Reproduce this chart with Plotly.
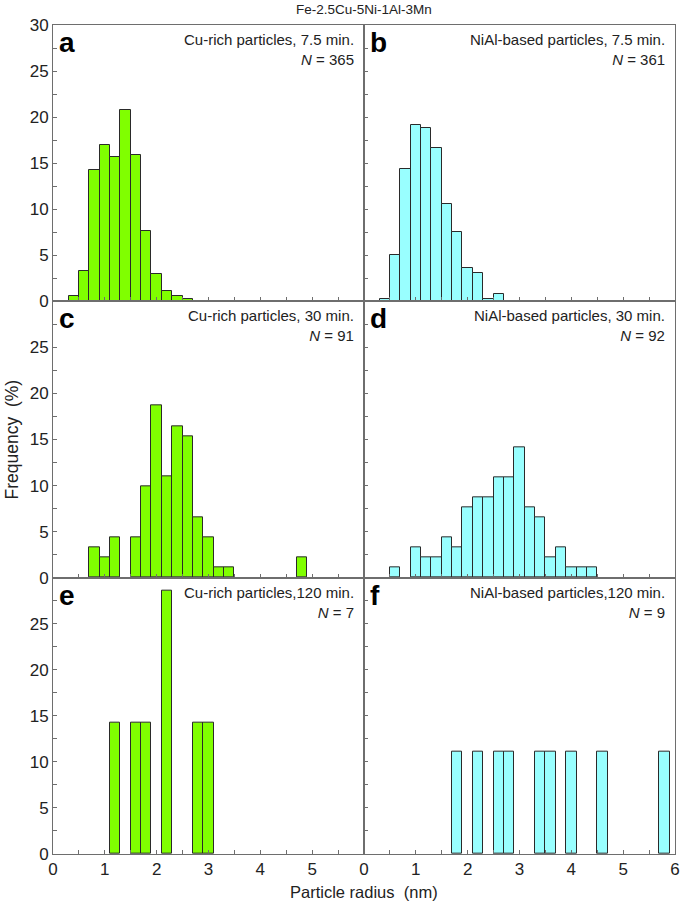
import plotly.graph_objects as go
from plotly.subplots import make_subplots

# bin centres (nm) and frequencies (%)
cu_7_x = [0.4, 0.6, 0.8, 1.0, 1.2, 1.4, 1.6, 1.8, 2.0, 2.2, 2.4, 2.6]
cu_7_y = [0.55, 3.29, 14.25, 16.99, 15.62, 20.82, 15.89, 7.67, 3.01, 1.10, 0.55, 0.27]

nial_7_x = [0.4, 0.6, 0.8, 1.0, 1.2, 1.4, 1.6, 1.8, 2.0, 2.2, 2.4, 2.6]
nial_7_y = [0.28, 4.99, 14.40, 19.11, 18.84, 16.62, 10.53, 7.48, 3.60, 3.05, 0.28, 0.83]

cu_30_x = [0.8, 1.0, 1.2, 1.6, 1.8, 2.0, 2.2, 2.4, 2.6, 2.8, 3.0, 3.2, 3.4, 4.8]
cu_30_y = [3.30, 2.20, 4.40, 4.40, 9.89, 18.68, 10.99, 16.48, 15.38, 6.59, 4.40, 1.10, 1.10, 2.20]

nial_30_x = [0.6, 1.0, 1.2, 1.4, 1.6, 1.8, 2.0, 2.2, 2.4, 2.6, 2.8, 3.0, 3.2, 3.4, 3.6, 3.8, 4.0, 4.2, 4.4]
nial_30_y = [1.09, 3.26, 2.17, 2.17, 4.35, 3.26, 7.61, 8.70, 8.70, 10.87, 10.87, 14.13, 7.61, 6.52,
             2.17, 3.26, 1.09, 1.09, 1.09]

cu_120_x = [1.2, 1.6, 1.8, 2.2, 2.8, 3.0]
cu_120_y = [14.29, 14.29, 14.29, 28.57, 14.29, 14.29]

nial_120_x = [1.8, 2.2, 2.6, 2.8, 3.4, 3.6, 4.0, 4.6, 5.8]
nial_120_y = [11.11, 11.11, 11.11, 11.11, 11.11, 11.11, 11.11, 11.11, 11.11]

panel_letters = ['a', 'b', 'c', 'd', 'e', 'f']
panel_labels = ['Cu-rich particles, 7.5 min.', 'NiAl-based particles, 7.5 min.',
                'Cu-rich particles, 30 min.', 'NiAl-based particles, 30 min.',
                'Cu-rich particles,120 min.', 'NiAl-based particles,120 min.']
panel_n = [365, 361, 91, 92, 7, 9]

green = '#80ff00'
cyan = '#99ffff'
axis_col = '#6e6e6e'
font_fam = 'Liberation Sans, Arial, sans-serif'

fig = make_subplots(rows=3, cols=2, horizontal_spacing=0, vertical_spacing=0)

series = [(cu_7_x, cu_7_y, green), (nial_7_x, nial_7_y, cyan),
          (cu_30_x, cu_30_y, green), (nial_30_x, nial_30_y, cyan),
          (cu_120_x, cu_120_y, green), (nial_120_x, nial_120_y, cyan)]

for k, (xs, ys, col) in enumerate(series):
    r = k // 2 + 1
    c = k % 2 + 1
    fig.add_trace(go.Bar(
        x=xs, y=ys, width=0.2,
        marker=dict(color=col, line=dict(color='#2a2a2a', width=1)),
        showlegend=False
    ), row=r, col=c)

    # x axis
    if c == 1:
        xvals = [0, 1, 2, 3, 4, 5]
    else:
        xvals = [0, 1, 2, 3, 4, 5, 6]
    fig.update_xaxes(
        range=[0, 6],
        tickvals=xvals,
        ticks='inside', ticklen=4, tickcolor=axis_col, tickwidth=1,
        minor=dict(ticks='inside', dtick=0.5, ticklen=4, tickcolor=axis_col),
        showticklabels=(r == 3),
        showline=True, linewidth=1, linecolor=axis_col, mirror=True,
        showgrid=False, zeroline=False,
        tickfont=dict(size=17, color='#222'),
        row=r, col=c)

    # y axis
    if r == 1:
        yvals = [0, 5, 10, 15, 20, 25, 30]
    else:
        yvals = [0, 5, 10, 15, 20, 25]
    fig.update_yaxes(
        range=[0, 30],
        tickvals=yvals,
        ticks='inside', ticklen=4, tickcolor=axis_col, tickwidth=1,
        minor=dict(ticks='inside', dtick=2.5, ticklen=4, tickcolor=axis_col),
        showticklabels=(c == 1),
        showline=True, linewidth=1, linecolor=axis_col, mirror=True,
        showgrid=False, zeroline=False,
        tickfont=dict(size=17, color='#222'),
        row=r, col=c)

    axn = '' if k == 0 else str(k + 1)
    fig.add_annotation(
        x=0.012, y=1.0, xref='x' + axn + ' domain', yref='y' + axn + ' domain',
        text='<b>' + panel_letters[k] + '</b>', showarrow=False,
        xanchor='left', yanchor='top',
        font=dict(size=28, color='black', family=font_fam))
    fig.add_annotation(
        x=0.975, y=0.985, xref='x' + axn + ' domain', yref='y' + axn + ' domain',
        text=panel_labels[k] + '<br><i>N</i> = ' + str(panel_n[k]),
        showarrow=False, xanchor='right', yanchor='top', align='right',
        font=dict(size=15, color='#222', family=font_fam))

fig.add_annotation(x=0.5, y=1.0, xref='paper', yref='paper', yshift=6,
                   text='Fe-2.5Cu-5Ni-1Al-3Mn', showarrow=False,
                   xanchor='center', yanchor='bottom',
                   font=dict(size=13.5, color='#222', family=font_fam))

fig.add_annotation(x=0.5, y=0, xref='paper', yref='paper', yshift=-27,
                   text='Particle radius  (nm)', showarrow=False,
                   xanchor='center', yanchor='top',
                   font=dict(size=16.5, color='#222', family=font_fam))

fig.add_annotation(x=0, y=0.5, xref='paper', yref='paper', xshift=-42,
                   text='Frequency  (%)', showarrow=False, textangle=-90,
                   xanchor='center', yanchor='middle',
                   font=dict(size=17.5, color='#222', family=font_fam))

fig.update_layout(
    width=685, height=901,
    autosize=False,
    margin=dict(l=53, r=5, t=25, b=47),
    plot_bgcolor='white',
    paper_bgcolor='white',
    bargap=0,
    font=dict(family=font_fam, size=15, color='#222')
)

fig.write_html("out.html", config={'displayModeBar': False},
               post_script="document.body.style.margin='0';")
